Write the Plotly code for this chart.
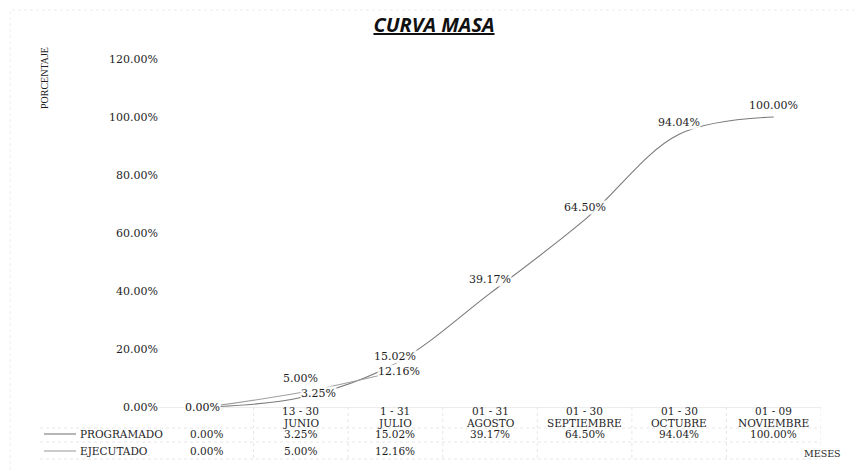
import plotly.graph_objects as go

# ---------------- data ----------------
rango_dias = ["", "13 - 30", "1 - 31", "01 - 31", "01 - 30", "01 - 30", "01 - 09"]
meses = ["", "JUNIO", "JULIO", "AGOSTO", "SEPTIEMBRE", "OCTUBRE", "NOVIEMBRE"]
programado = [0.0, 0.0325, 0.1502, 0.3917, 0.6450, 0.9404, 1.0000]
ejecutado = [0.0, 0.0500, 0.1216]
y_ticks = [0.0, 0.2, 0.4, 0.6, 0.8, 1.0, 1.2]
series_names = ["PROGRAMADO", "EJECUTADO"]

# ---------------- layout geometry ----------------
W, H = 864, 473
L, R, T, B = 151, 51, 51, 74
PW, PH = W - L - R, H - T - B

def px_x(px):
    return (px - L) / PW

def px_y(py):
    return (H - B - py) / PH

FONT = "DejaVu Serif"
TXT = "#1e1e1e"
COL_P = "#7a7a7a"
COL_E = "#a0a0a0"

x_idx = list(range(len(meses)))

fig = go.Figure()
fig.add_trace(go.Scatter(
    x=x_idx, y=programado, name=series_names[0], mode="lines",
    line=dict(color=COL_P, width=1.1, shape="spline", smoothing=1.0),
))
fig.add_trace(go.Scatter(
    x=x_idx[:len(ejecutado)], y=ejecutado, name=series_names[1], mode="lines",
    line=dict(color=COL_E, width=1.1, shape="spline", smoothing=1.0),
))

ann = []
shapes = []

# data labels
shift_p = [(-4, 0), (18, 4), (0, 7), (0, 14), (0, 12), (0, 12), (0, 12)]
shift_e = [(-4, 0), (0, 14), (4, 0)]
for vals, shifts in [(programado, shift_p), (ejecutado, shift_e)]:
    for i, v in enumerate(vals):
        ann.append(dict(x=i, xref="x", y=v, yref="y", text=f"{v:.2%}",
                        xanchor="center", yanchor="middle", showarrow=False,
                        xshift=shifts[i][0], yshift=shifts[i][1],
                        bgcolor="rgba(255,255,255,0.85)", borderpad=0,
                        font=dict(family=FONT, size=11, color=TXT)))

# category headers (data table header row)
for i, (r, m) in enumerate(zip(rango_dias, meses)):
    if r:
        ann.append(dict(x=i, xref="x", y=px_y(403), yref="paper", text=r,
                        xanchor="center", yanchor="middle", showarrow=False,
                        font=dict(family=FONT, size=10.5, color=TXT)))
    if m:
        ann.append(dict(x=i, xref="x", y=px_y(415), yref="paper", text=m,
                        xanchor="center", yanchor="middle", showarrow=False,
                        font=dict(family=FONT, size=10.5, color=TXT)))

# data table rows
row_y = [426, 443]
row_cols = [COL_P, COL_E]
for name, vals, ry, col in zip(series_names, [programado, ejecutado], row_y, row_cols):
    shapes.append(dict(type="line", xref="paper", yref="paper",
                       x0=px_x(36), x1=px_x(68), y0=px_y(ry), y1=px_y(ry),
                       line=dict(color=col, width=1.1)))
    ann.append(dict(x=px_x(70), xref="paper", y=px_y(ry), yref="paper", text=name,
                    xanchor="left", yanchor="middle", showarrow=False,
                    font=dict(family=FONT, size=10.5, color=TXT)))
    for i, v in enumerate(vals):
        ann.append(dict(x=i, xref="x", y=px_y(ry), yref="paper", text=f"{v:.2%}",
                        xanchor="center", yanchor="middle", showarrow=False,
                        font=dict(family=FONT, size=10.5, color=TXT)))

# faint table grid
grid = dict(color="#e6e6e6", width=1, dash="dot")
for i in range(len(meses)):
    shapes.append(dict(type="line", xref="x", yref="paper", x0=i + 0.5, x1=i + 0.5,
                       y0=px_y(399), y1=px_y(451), line=grid))
for gy in [420, 434, 451]:
    shapes.append(dict(type="line", xref="paper", yref="paper", x0=px_x(32), x1=1,
                       y0=px_y(gy), y1=px_y(gy), line=grid))

# chart border (faint)
shapes.append(dict(type="rect", xref="paper", yref="paper", x0=px_x(2), x1=px_x(W - 2),
                   y0=px_y(H - 2), y1=px_y(2),
                   line=dict(color="#ececec", width=1, dash="dot")))

# axis titles
ann.append(dict(x=px_x(36), xref="paper", y=px_y(70), yref="paper", text="PORCENTAJE",
                xanchor="center", yanchor="middle", textangle=-90, showarrow=False,
                font=dict(family="Liberation Serif", size=10, color=TXT)))
ann.append(dict(x=px_x(814), xref="paper", y=px_y(445), yref="paper", text="MESES",
                xanchor="center", yanchor="middle", showarrow=False,
                font=dict(family=FONT, size=9.5, color=TXT)))

fig.update_layout(
    width=W, height=H,
    margin=dict(l=L, r=R, t=T, b=B),
    paper_bgcolor="white", plot_bgcolor="white",
    showlegend=False,
    title=dict(text="<b><i><u>CURVA MASA</u></i></b>", xref="container", x=426 / W,
               xanchor="center", yref="container", y=1 - 17 / H, yanchor="middle",
               font=dict(family="Open Sans", size=20, color="#111")),
    annotations=ann, shapes=shapes,
    xaxis=dict(range=[-0.5, len(meses) - 0.5], tickvals=x_idx, ticktext=[""] * len(meses),
               showgrid=False, zeroline=False, showline=True, linecolor="#ececec",
               ticks=""),
    yaxis=dict(range=[0, 1.2], tickvals=y_ticks, tickformat=".2%",
               showgrid=False, zeroline=False, showline=False,
               tickfont=dict(family=FONT, size=11, color=TXT), ticks=""),
)

fig.write_html("out.html")
